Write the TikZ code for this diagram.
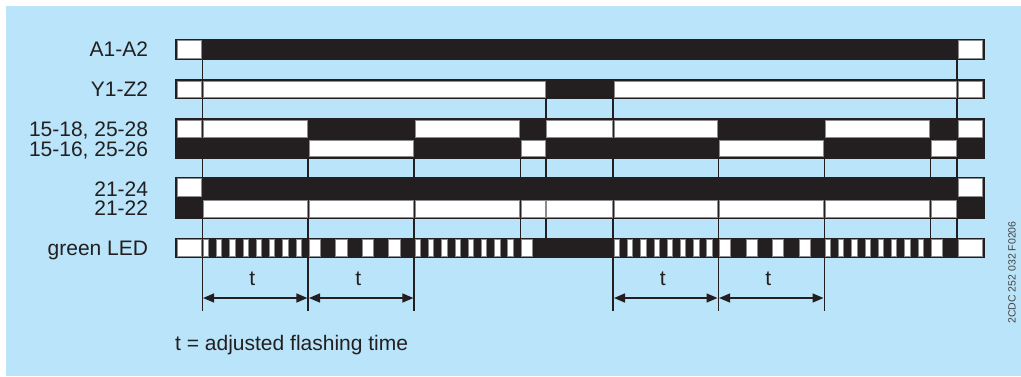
\documentclass[tikz,border=0pt]{standalone}
\usepackage{fontspec}
\setmainfont{Liberation Sans}
\usetikzlibrary{arrows.meta}
\definecolor{bgblue}{RGB}{185,228,249}
\definecolor{ink}{RGB}{35,31,32}
\definecolor{cellgray}{RGB}{140,140,140}
\newcommand\wcell[4]{\path[cell] ({#1+0.9},#3) rectangle ({#2-0.9},#4);}
\begin{document}
\begin{tikzpicture}[x=1pt,y=-1pt,
  rowbar/.style={fill=ink},
  cell/.style={fill=white,draw=cellgray,line width=0.8pt},
  tline/.style={draw=ink,line width=1.6pt},
  lab/.style={anchor=base east,font=\fontsize{21}{23}\selectfont,text=ink,inner sep=0pt},
  tlab/.style={anchor=base,font=\fontsize{21}{23}\selectfont,text=ink,inner sep=0pt},
  dimarrow/.style={draw=ink,line width=1.4pt,{Triangle[length=11pt,width=9pt]}-{Triangle[length=11pt,width=9pt]}},
]
\useasboundingbox (0,0) rectangle (1021,376);
\fill[bgblue] (6,6) rectangle (1021,376);

% time lines
\foreach \x/\ya/\yb in {202.3/60/311, 308.2/118/311, 414.2/118/311, 520.4/118/258,
  545.8/79/258, 613.2/79/311, 718.3/118/311, 824.3/118/311, 930.5/118/258, 957/60/258}
  \draw[tline] (\x,\ya) -- (\x,\yb);

% A1-A2
\fill[rowbar] (175,39) rectangle (984.5,60);
\wcell{176.5}{202.3}{40.7}{58.3}
\wcell{957}{983.3}{40.7}{58.3}

% Y1-Z2
\fill[rowbar] (175,79.3) rectangle (984.5,99.3);
\wcell{176.5}{202.3}{81}{97.6}
\wcell{202.3}{545.8}{81}{97.6}
\wcell{613.2}{957}{81}{97.6}
\wcell{957}{983.3}{81}{97.6}

% 15-18 / 15-16
\fill[rowbar] (175,118.3) rectangle (984.5,158.5);
\foreach \a/\b in {176.5/202.3, 202.3/308.2, 414.2/520.4, 545.8/613.2, 613.2/718.3, 824.3/930.5, 957/983.3}
  {\wcell{\a}{\b}{119.9}{137.3}}
\foreach \a/\b in {308.2/414.2, 520.4/545.8, 718.3/824.3, 930.5/957}
  {\wcell{\a}{\b}{140}{156.8}}

% 21-24 / 21-22
\fill[rowbar] (175,177.3) rectangle (984.5,219);
\wcell{176.5}{202.3}{178.8}{196.7}
\wcell{957}{983.3}{178.8}{196.7}
\foreach \a/\b in {202.3/308.2, 308.2/414.2, 414.2/520.4, 520.4/545.8, 545.8/613.2, 613.2/718.3, 718.3/824.3, 824.3/930.5, 930.5/957}
  {\wcell{\a}{\b}{200}{217.3}}

% green LED
\fill[rowbar] (175,237.7) rectangle (984.5,258.3);
\wcell{176.5}{202.3}{239.3}{256.7}
\wcell{957}{983.3}{239.3}{256.7}
\foreach \a in {202.3, 414.2, 613.2, 824.3}
  \foreach \k in {0,...,7}
    \path[cell] ({\a+13.24*\k+1.0},239.3) rectangle ({\a+13.24*\k+6.3},256.7);
\foreach \a in {308.2, 718.3}
  \foreach \k in {0,...,3}
    \path[cell] ({\a+26.5*\k+1.1},239.3) rectangle ({\a+26.5*\k+12.3},256.7);
\foreach \a in {520.4, 930.5}
  \path[cell] ({\a+1.1},239.3) rectangle ({\a+12.3},256.7);

% labels
\node[lab] (lA) at (148.3,56.7) {A1-A2};
\node[lab] (lY) at (148.3,96.8) {Y1-Z2};
\node[lab] (l1518) at (148.3,136.3) {15-18, 25-28};
\node[lab] (l1516) at (148.3,156.2) {15-16, 25-26};
\node[lab] (l2124) at (148.3,196.1) {21-24};
\node[lab] (l2122) at (148.3,215.4) {21-22};
\node[lab] (lled) at (148.3,255.3) {green LED};

% dimension arrows
\coordinate (p0) at (203.1,298);
\coordinate (p1a) at (307.4,298);
\coordinate (p1b) at (309.0,298);
\coordinate (p2) at (413.4,298);
\coordinate (q0) at (614.0,298);
\coordinate (q1a) at (717.5,298);
\coordinate (q1b) at (719.1,298);
\coordinate (q2) at (823.5,298);
\draw[dimarrow] (p0) -- (p1a);
\draw[dimarrow] (p1b) -- (p2);
\draw[dimarrow] (q0) -- (q1a);
\draw[dimarrow] (q1b) -- (q2);
\node[tlab] (t1) at (252.2,285.5) {t};
\node[tlab] (t2) at (358.2,285.5) {t};
\node[tlab] (t3) at (662.7,285.5) {t};
\node[tlab] (t4) at (768.3,285.5) {t};

\node[anchor=base west,font=\fontsize{21}{23}\selectfont,text=ink,inner sep=0pt] (legend) at (175,350) {t = adjusted flashing time};
\node[rotate=90,font=\fontsize{10.5}{12}\selectfont,text=ink!85,inner sep=0pt] (code) at (1012,272.5) {2CDC 252 032 F0206};
\end{tikzpicture}
\end{document}
